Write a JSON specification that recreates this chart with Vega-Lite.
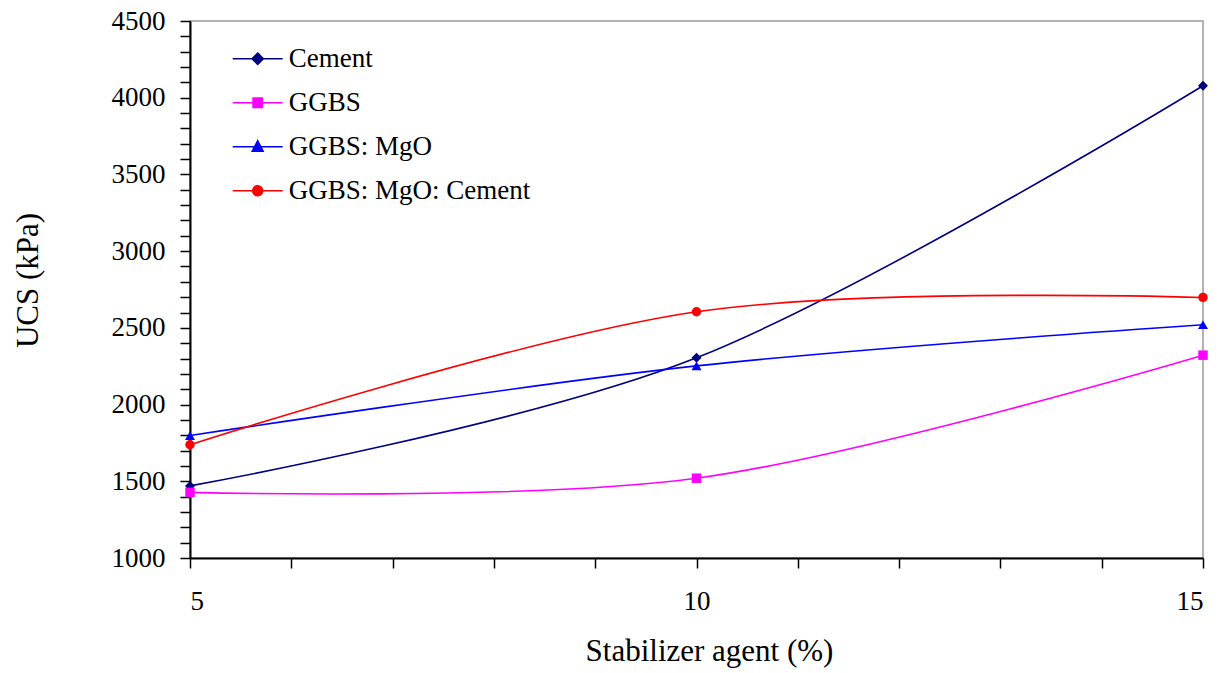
{
  "$schema": "https://vega.github.io/schema/vega-lite/v6.json",
  "width": 1013,
  "height": 537,
  "autosize": {"type": "none"},
  "padding": {"left": 190, "top": 21, "right": 20, "bottom": 115},
  "background": "white",
  "config": {
    "view": {"stroke": "#9a9a9a", "strokeWidth": 1.5},
    "font": "Liberation Serif",
    "legend": {
      "title": null, "orient": "none", "legendX": 46.7, "legendY": 16.75, "padding": 0, "rowPadding": 10,
      "symbolSize": 1600, "symbolStrokeWidth": 1.6, "labelOffset": 10,
      "labelFont": "Liberation Serif", "labelFontSize": 27, "labelColor": "black", "labelLimit": 400
    }
  },
  "data": {
    "values": [
      {"agent": 5, "ucs": 1470, "series": "Cement"},
      {"agent": 10, "ucs": 2305, "series": "Cement"},
      {"agent": 15, "ucs": 4078, "series": "Cement"},
      {"agent": 5, "ucs": 1428, "series": "GGBS"},
      {"agent": 10, "ucs": 1520, "series": "GGBS"},
      {"agent": 15, "ucs": 2322, "series": "GGBS"},
      {"agent": 5, "ucs": 1798, "series": "GGBS: MgO"},
      {"agent": 10, "ucs": 2252, "series": "GGBS: MgO"},
      {"agent": 15, "ucs": 2520, "series": "GGBS: MgO"},
      {"agent": 5, "ucs": 1738, "series": "GGBS: MgO: Cement"},
      {"agent": 10, "ucs": 2605, "series": "GGBS: MgO: Cement"},
      {"agent": 15, "ucs": 2698, "series": "GGBS: MgO: Cement"}
    ]
  },
  "encoding": {
    "x": {
      "field": "agent",
      "type": "quantitative",
      "scale": {"domain": [5, 15], "nice": false, "zero": false},
      "axis": {
        "title": "Stabilizer agent (%)",
        "values": [5, 6, 7, 8, 9, 10, 11, 12, 13, 14, 15],
        "labelExpr": "datum.value % 5 == 0 ? datum.label : ''",
        "labelOverlap": false,
        "grid": false,
        "domainColor": "black",
        "domainWidth": 2,
        "tickColor": "black",
        "tickWidth": 1.5,
        "tickSize": 10,
        "labelFont": "Liberation Serif",
        "labelFontSize": 27,
        "labelColor": "black",
        "labelPadding": 20,
        "titleFont": "Liberation Serif",
        "titleFontSize": 31,
        "titleFontWeight": "normal",
        "titleColor": "black",
        "titlePadding": 22,
        "titleX": 519
      }
    },
    "y": {
      "field": "ucs",
      "type": "quantitative",
      "scale": {"domain": [1000, 4500], "nice": false, "zero": false},
      "axis": {
        "title": "UCS (kPa)",
        "values": [1000,1100,1200,1300,1400,1500,1600,1700,1800,1900,2000,2100,2200,2300,2400,2500,2600,2700,2800,2900,3000,3100,3200,3300,3400,3500,3600,3700,3800,3900,4000,4100,4200,4300,4400,4500],
        "format": "d",
        "labelExpr": "datum.value % 500 == 0 ? datum.label : ''",
        "labelOverlap": false,
        "grid": false,
        "domainColor": "black",
        "domainWidth": 2,
        "tickColor": "black",
        "tickWidth": 1.5,
        "tickSize": 10,
        "labelFont": "Liberation Serif",
        "labelFontSize": 27,
        "labelColor": "black",
        "labelPadding": 15,
        "titleFont": "Liberation Serif",
        "titleFontSize": 31,
        "titleFontWeight": "normal",
        "titleColor": "black",
        "titlePadding": 67,
        "titleY": 259
      }
    },
    "color": {
      "field": "series",
      "type": "nominal",
      "scale": {
        "domain": ["Cement", "GGBS", "GGBS: MgO", "GGBS: MgO: Cement"],
        "range": ["#000080", "#FF00FF", "#0000FF", "#FF0000"]
      }
    }
  },
  "layer": [
    {
      "mark": {"type": "line", "interpolate": "cardinal", "strokeWidth": 1.6}
    },
    {
      "transform": [{"filter": "datum.series == 'Cement'"}],
      "mark": {"type": "point", "filled": true, "opacity": 1, "size": 100, "shape": "diamond"}
    },
    {
      "transform": [{"filter": "datum.series == 'GGBS'"}],
      "mark": {"type": "point", "filled": true, "opacity": 1, "size": 90, "shape": "square"}
    },
    {
      "transform": [{"filter": "datum.series == 'GGBS: MgO'"}],
      "mark": {"type": "point", "filled": true, "opacity": 1, "size": 100, "shape": "triangle-up"}
    },
    {
      "transform": [{"filter": "datum.series == 'GGBS: MgO: Cement'"}],
      "mark": {"type": "point", "filled": true, "opacity": 1, "size": 90, "shape": "circle"}
    },
    {
      "mark": {"type": "point", "filled": true, "opacity": 1, "size": 0},
      "encoding": {
        "color": null,
        "fill": {
          "field": "series",
          "type": "nominal",
          "scale": {
            "domain": ["Cement", "GGBS", "GGBS: MgO", "GGBS: MgO: Cement"],
            "range": ["#000080", "#FF00FF", "#0000FF", "#FF0000"]
          }
        },
        "stroke": {
          "field": "series",
          "type": "nominal",
          "scale": {
            "domain": ["Cement", "GGBS", "GGBS: MgO", "GGBS: MgO: Cement"],
            "range": ["#000080", "#FF00FF", "#0000FF", "#FF0000"]
          }
        },
        "shape": {
          "field": "series",
          "type": "nominal",
          "scale": {
            "domain": ["Cement", "GGBS", "GGBS: MgO", "GGBS: MgO: Cement"],
            "range": [
              "M-1.25,0H1.25M0,-0.28L0.28,0L0,0.28L-0.28,0Z",
              "M-1.25,0H1.25M-0.23,-0.23H0.23V0.23H-0.23Z",
              "M-1.25,0H1.25M0,-0.3L0.27,0.22L-0.27,0.22Z",
              "M-1.25,0H1.25M-0.25,0A0.25,0.25 0 1,0 0.25,0A0.25,0.25 0 1,0 -0.25,0Z"
            ]
          }
        }
      }
    }
  ]
}
